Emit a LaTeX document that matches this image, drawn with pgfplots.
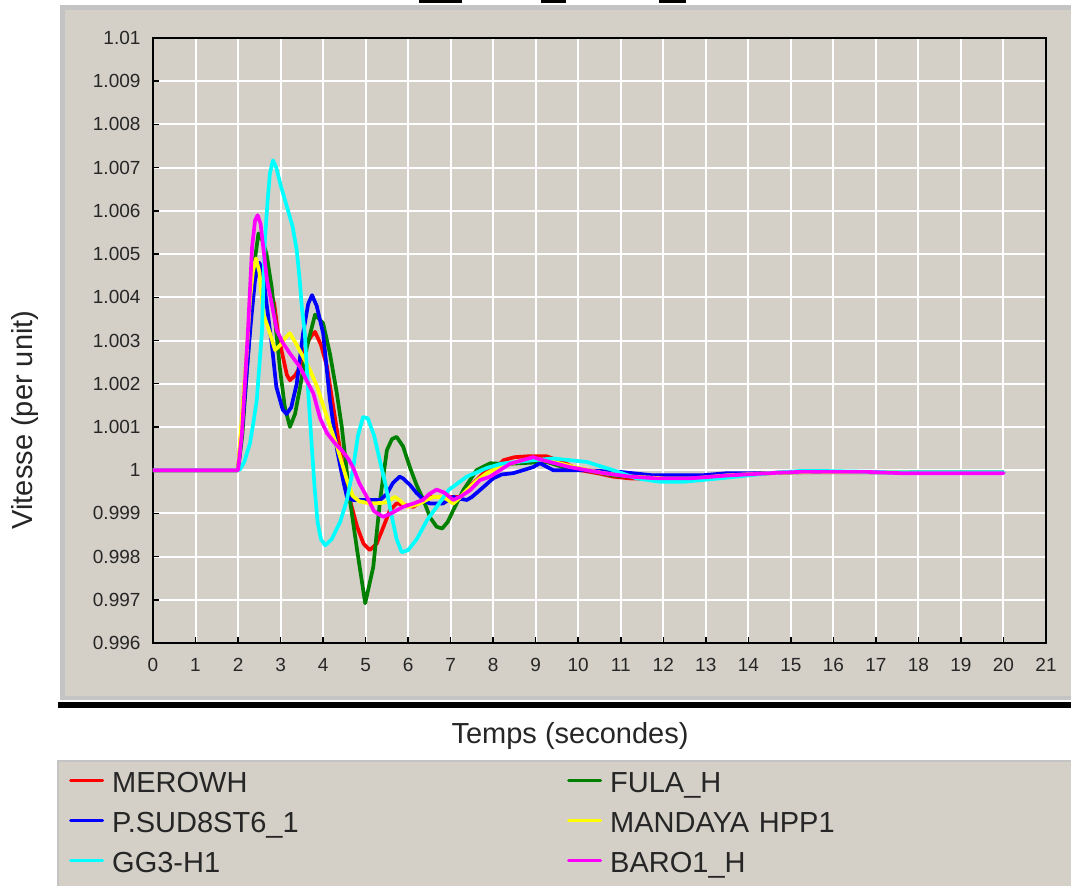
\documentclass[border=0pt]{standalone}
\usepackage{pgfplots}
\pgfplotsset{compat=1.18}
\usepackage{fontspec}
\setmainfont{Liberation Sans}
\definecolor{panel}{RGB}{212,208,200}
\definecolor{panelborder}{RGB}{196,196,196}
\definecolor{cred}{RGB}{255,0,0}
\definecolor{cblue}{RGB}{0,0,255}
\definecolor{ccyan}{RGB}{0,255,255}
\definecolor{cgreen}{RGB}{0,128,0}
\definecolor{cyellow}{RGB}{255,255,0}
\definecolor{cmagenta}{RGB}{255,0,255}
\begin{document}
\begin{tikzpicture}
\fill[white] (0pt,0pt) rectangle (1071pt,-886pt);
\useasboundingbox (0pt,0pt) rectangle (1071pt,-886pt);
% clipped title fragments
\fill[black] (419pt,0pt) rectangle (462pt,-2.5pt);
\fill[black] (541pt,0pt) rectangle (566pt,-2.5pt);
\fill[black] (659pt,0pt) rectangle (686pt,-2.5pt);
% chart panel
\fill[panelborder] (60pt,-5pt) rectangle (1071pt,-700pt);
\fill[panel] (65pt,-10pt) rectangle (1071pt,-696pt);
\fill[black] (58pt,-702pt) rectangle (1071pt,-708pt);
% legend panel
\fill[panelborder] (57pt,-760pt) rectangle (1071pt,-886pt);
\fill[panel] (59pt,-762pt) rectangle (1071pt,-886pt);
\begin{axis}[
  at={(153pt,-643pt)}, anchor=south west,
  scale only axis, width=893pt, height=605pt,
  xmin=0, xmax=21, ymin=0.996, ymax=1.01,
  axis background/.style={fill=panel},
  grid=major, grid style={white, line width=2pt},
  axis line style={black, line width=1.8pt},
  tick style={black, line width=1.5pt},
  major tick length=6pt,
  tick pos=left,
  scaled y ticks=false,
  xtick={0,1,...,21},
  ytick={0.996,0.997,0.998,0.999,1,1.001,1.002,1.003,1.004,1.005,1.006,1.007,1.008,1.009,1.01},
  yticklabels={0.996,0.997,0.998,0.999,1,1.001,1.002,1.003,1.004,1.005,1.006,1.007,1.008,1.009,1.01},
  /pgf/number format/assume math mode=true,
  xticklabel style={font=\fontsize{19}{22}\selectfont, text=black!85, yshift=-12pt},
  yticklabel style={font=\fontsize{19}{22}\selectfont, text=black!85, xshift=-9pt},
  xlabel={Temps (secondes)},
  xlabel style={at={(axis description cs:0.467,-0.154)}, anchor=center, font=\fontsize{29}{34}\selectfont, text=black!85},
  ylabel={Vitesse (per unit)},
  ylabel style={at={(axis description cs:-0.1433,0.3686)}, anchor=center, font=\fontsize{29}{34}\selectfont, text=black!85},
  legend columns=2,
  legend image code/.code={\draw[#1, line width=3pt] (0pt,0pt) -- (32pt,0pt);},
  legend style={at={(axis description cs:-0.09406,-0.20661)}, anchor=north west,
    draw=none, fill=none, inner sep=0pt, row sep=16pt,
    font=\fontsize{29}{34}\selectfont, text=black!85,
    nodes={inner xsep=8pt, inner ysep=0pt, text height=24pt, text depth=0pt, text width=447pt, align=left}},
  every axis plot/.append style={line width=3.7pt, line join=round, line cap=round, no marks},
]
\addplot[cred] coordinates {(0,1)(2,1)(2.1,1.0012)(2.2,1.0026)(2.3,1.0038)(2.4,1.0046)(2.47,1.0047)(2.55,1.0046)(2.65,1.0044)(2.75,1.0042)(2.85,1.00385)(2.95,1.0031)(3.06,1.0026)(3.15,1.0022)(3.22,1.00208)(3.35,1.0022)(3.46,1.0024)(3.6,1.0029)(3.72,1.0031)(3.81,1.0032)(3.95,1.0029)(4.09,1.0024)(4.24,1.00146)(4.4,1.00046)(4.5,0.9999)(4.63,0.99931)(4.8,0.99869)(4.95,0.9983)(5.1,0.99815)(5.26,0.9983)(5.42,0.99869)(5.57,0.99907)(5.73,0.99923)(5.9,0.9992)(6.12,0.99915)(6.3,0.99928)(6.51,0.99938)(6.9,0.99938)(7.22,0.99938)(7.4,0.9996)(7.61,0.99977)(7.85,1)(8.08,1.00007)(8.24,1.00023)(8.5,1.0003)(8.8,1.00032)(9.26,1.00032)(9.6,1.0002)(10.04,1)(10.5,0.99992)(10.82,0.99985)(11.2,0.99981)(11.8,0.99979)(12.4,0.9998)(13,0.99983)(13.6,0.99988)(14.4,0.99993)(15.2,0.99996)(16.5,0.99996)(18,0.99995)(20,0.99995)};
\addlegendentry{MEROWH}
\addplot[cgreen] coordinates {(0,1)(2,1)(2.1,1.0008)(2.2,1.0022)(2.3,1.0036)(2.4,1.0049)(2.48,1.00548)(2.58,1.0053)(2.67,1.005)(2.79,1.00424)(2.87,1.00347)(2.99,1.00231)(3.1,1.00146)(3.22,1.001)(3.34,1.0013)(3.46,1.00193)(3.62,1.00285)(3.81,1.0036)(4.0,1.0034)(4.16,1.0027)(4.32,1.0018)(4.44,1.001)(4.52,1.0003)(4.63,0.99931)(4.8,0.99815)(4.99,0.99692)(5.18,0.99776)(5.34,0.99931)(5.5,1.00046)(5.62,1.00072)(5.73,1.00077)(5.88,1.00055)(6.04,1.00007)(6.2,0.99965)(6.36,0.99931)(6.52,0.9989)(6.67,0.99869)(6.8,0.99865)(6.93,0.9988)(7.06,0.99907)(7.3,0.99954)(7.61,1)(7.93,1.00016)(8.3,1.00014)(8.63,1.00016)(9.26,1.00019)(9.8,1.00002)(10.2,1)(10.8,0.99988)(11.5,0.99982)(12.3,0.9998)(13,0.99984)(14,0.99991)(15,0.99995)(20,0.99995)};
\addlegendentry{FULA\_H}
\addplot[cblue] coordinates {(0,1)(2,1)(2.1,1.001)(2.2,1.0022)(2.3,1.0034)(2.4,1.0044)(2.5,1.0048)(2.58,1.0046)(2.67,1.00386)(2.8,1.00285)(2.9,1.00193)(3.05,1.0014)(3.14,1.0013)(3.25,1.00145)(3.38,1.002)(3.53,1.00317)(3.65,1.00385)(3.74,1.00405)(3.85,1.0038)(4.0,1.00317)(4.16,1.00162)(4.33,1.00046)(4.47,0.99977)(4.56,0.99938)(4.7,0.99931)(5.34,0.99931)(5.5,0.99945)(5.64,0.9997)(5.8,0.99985)(5.88,0.99981)(6.05,0.99965)(6.2,0.99947)(6.4,0.99928)(6.51,0.99923)(6.82,0.99923)(7.06,0.99938)(7.2,0.99934)(7.38,0.99931)(7.5,0.99938)(7.69,0.99954)(8.0,0.99981)(8.2,0.9999)(8.47,0.99993)(8.94,1.00007)(9.1,1.00016)(9.41,1)(10.04,1)(10.98,0.99996)(11.76,0.99988)(12.9,0.99988)(13.5,0.99993)(14.35,0.99993)(15.5,0.99996)(17.7,0.99995)(20,0.99995)};
\addlegendentry{P.SUD8ST6\_1}
\addplot[cyellow] coordinates {(0,1)(2,1)(2.05,1.0007)(2.12,1.00162)(2.21,1.00278)(2.28,1.00393)(2.35,1.0046)(2.42,1.0049)(2.5,1.0046)(2.6,1.0036)(2.75,1.00317)(2.87,1.00278)(3.0,1.0029)(3.1,1.00305)(3.22,1.00317)(3.35,1.00295)(3.53,1.00262)(3.7,1.0023)(3.86,1.00193)(4.09,1.00123)(4.33,1.00054)(4.56,0.99977)(4.7,0.9994)(4.85,0.99928)(5.1,0.99923)(5.35,0.99924)(5.5,0.99926)(5.69,0.99938)(5.8,0.9993)(5.97,0.99915)(6.12,0.99918)(6.28,0.99923)(6.45,0.99932)(6.59,0.99938)(6.82,0.99938)(6.95,0.9993)(7.06,0.99923)(7.2,0.99935)(7.38,0.99954)(7.6,0.99975)(7.85,0.99993)(8.2,1.0001)(8.6,1.0002)(9.0,1.00026)(9.4,1.0002)(10.0,1.00005)(10.6,0.99993)(11.3,0.99985)(12,0.99981)(12.7,0.99981)(13.5,0.99988)(14.5,0.99993)(15.5,0.99996)(20,0.99995)};
\addlegendentry{MANDAYA HPP1}
\addplot[ccyan] coordinates {(0,1)(2,1)(2.05,1.00002)(2.15,1.0002)(2.28,1.00062)(2.36,1.0011)(2.44,1.00162)(2.5,1.0024)(2.56,1.00317)(2.63,1.0053)(2.7,1.0063)(2.75,1.00687)(2.82,1.00717)(2.9,1.007)(3.0,1.0066)(3.15,1.00609)(3.28,1.00565)(3.38,1.00509)(3.45,1.0044)(3.5,1.00377)(3.57,1.00317)(3.65,1.0018)(3.74,1.00046)(3.8,0.9996)(3.87,0.9988)(3.95,0.9984)(4.05,0.99826)(4.2,0.9984)(4.4,0.9988)(4.56,0.99931)(4.7,1.0)(4.82,1.0008)(4.94,1.00123)(5.05,1.0012)(5.2,1.0008)(5.34,1.0002)(5.46,0.9997)(5.6,0.999)(5.73,0.9984)(5.85,0.9981)(6.0,0.99815)(6.2,0.9984)(6.45,0.99885)(6.67,0.99915)(6.95,0.99954)(7.38,0.99985)(7.85,1.00005)(8.2,1.00015)(8.94,1.00023)(9.41,1.00027)(10.2,1.00019)(10.82,1)(11.37,0.99981)(11.92,0.99973)(12.47,0.99973)(13.33,0.99981)(14.5,0.99993)(15.2,0.99998)(15.8,0.99998)(17.5,0.99995)(20,0.99995)};
\addlegendentry{GG3-H1}
\addplot[cmagenta] coordinates {(0,1)(2,1)(2.09,1.00085)(2.16,1.002)(2.23,1.00317)(2.33,1.00516)(2.4,1.00578)(2.46,1.0059)(2.53,1.0057)(2.6,1.0051)(2.68,1.0044)(2.79,1.00386)(2.91,1.00324)(3.05,1.00295)(3.22,1.0027)(3.46,1.00238)(3.6,1.0021)(3.77,1.00178)(3.93,1.0012)(4.09,1.00086)(4.28,1.00062)(4.45,1.00045)(4.6,1.00025)(4.71,1.00005)(4.85,0.9997)(5.03,0.99938)(5.2,0.99905)(5.41,0.99892)(5.6,0.999)(5.88,0.99915)(6.1,0.99922)(6.35,0.99931)(6.5,0.99945)(6.67,0.99955)(6.85,0.99948)(7.06,0.99931)(7.25,0.9994)(7.46,0.99954)(7.69,0.99977)(7.93,0.99985)(8.16,1)(8.4,1.00015)(8.94,1.0003)(9.17,1.00023)(9.8,1.00007)(10.6,0.99993)(11.22,0.99985)(11.85,0.99981)(12.63,0.99981)(13.57,0.99988)(14.5,0.99993)(15.2,0.99996)(16.8,0.99996)(17.6,0.99993)(20,0.99993)};
\addlegendentry{BARO1\_H}
\end{axis}
\end{tikzpicture}
\end{document}
